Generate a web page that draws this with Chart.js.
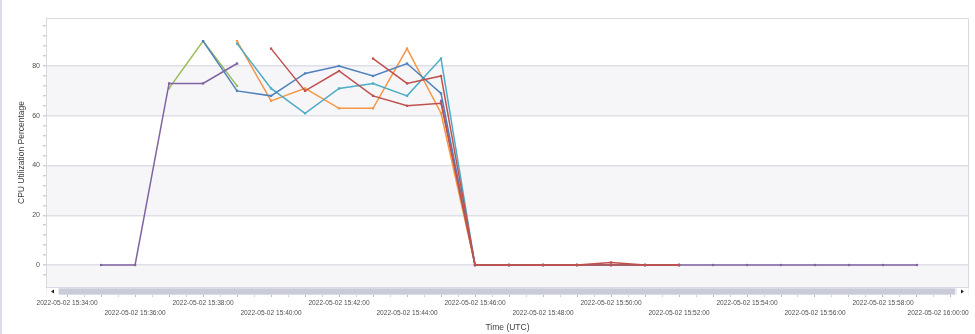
<!DOCTYPE html>
<html>
<head>
<meta charset="utf-8">
<title>CPU Utilization Percentage</title>
<script src="https://cdn.jsdelivr.net/npm/chart.js@4/dist/chart.umd.min.js"></script>
<style>
    html, body { margin: 0; padding: 0; background: #fff; }
    canvas { display: block; }
</style>
</head>
<body>
<canvas id="cpuChart" width="975" height="334"></canvas>
<script>
// minutes after 15:00 on 2022-05-02
var minutes = [35, 36, 37, 38, 39, 40, 41, 42, 43, 44, 45, 46, 47, 48, 49, 50, 51, 52, 53, 54, 55, 56, 57, 58, 59];

var redA    = [null, null, null, null, null, 87, 70, 78, 68, 64, 65, 0, 0, 0, 0, 1, 0, 0, null, null, null, null, null, null, null];
var redB    = [null, null, null, null, null, null, null, null, 83, 73, 76, 0, 0, 0, 0, 0, 0, 0, null, null, null, null, null, null, null];
var blue    = [null, null, null, 90, 70, 68, 77, 80, 76, 81, 69, 0, 0, 0, 0, 0, 0, 0, null, null, null, null, null, null, null];
var cyan    = [null, null, null, null, 89, 71, 61, 71, 73, 68, 83, 0, 0, 0, 0, 0, 0, 0, null, null, null, null, null, null, null];
var orange  = [null, null, null, null, 90, 66, 71, 63, 63, 87, 61, 0, 0, 0, 0, 0, 0, 0, null, null, null, null, null, null, null];
var purple  = [0, 0, 73, 73, 81, null, null, null, null, null, 66, 0, 0, 0, 0, 0, 0, 0, 0, 0, 0, 0, 0, 0, 0];
var green   = [null, null, 71, 90, 72, null, null, null, null, null, null, null, null, null, null, null, null, null, null, null, null, null, null, null, null];

var yTickLabels = [0, 20, 40, 60, 80];
var xMin = 33.38, xMax = 60.53;
var yMin = -8.84, yMax = 99.3;

var fontFamily = '"Liberation Sans", Arial, sans-serif';

function toPoints(values) {
    return minutes.map(function (m, i) { return { x: m, y: values[i] }; });
}

function makeSet(label, values, color) {
    return {
        label: label,
        data: toPoints(values),
        borderColor: color,
        backgroundColor: color,
        borderWidth: 1.5,
        pointStyle: 'rect',
        pointRadius: 1.6,
        pointBorderWidth: 0,
        pointBackgroundColor: color,
        spanGaps: false,
        tension: 0
    };
}

function timeLabel(m) {
    var h = 15 + Math.floor(m / 60);
    var mm = m % 60;
    return '2022-05-02 ' + h + ':' + (mm < 10 ? '0' + mm : mm) + ':00';
}

// alternating bands, frame, left edge
var chartFrame = {
    id: 'chartFrame',
    beforeDraw: function (chart) {
        var ctx = chart.ctx, area = chart.chartArea, y = chart.scales.y;
        ctx.save();
        ctx.fillStyle = '#dcdce6';
        ctx.fillRect(0, 0, 2, chart.height);
        ctx.fillStyle = '#f6f6f9';
        var bands = [[yMin, 0], [20, 40], [60, 80]];
        bands.forEach(function (b) {
            var top = y.getPixelForValue(b[1]);
            var bottom = y.getPixelForValue(b[0]);
            ctx.fillRect(area.left, top, area.right - area.left, bottom - top);
        });
        ctx.restore();
    },
    afterDraw: function (chart) {
        var ctx = chart.ctx, area = chart.chartArea;
        ctx.save();
        ctx.strokeStyle = '#d9d9e3';
        ctx.lineWidth = 1;
        ctx.strokeRect(area.left + 0.5, area.top + 0.5, area.right - area.left - 1, area.bottom - area.top);
        // scrollbar
        var sy = area.bottom + 1;
        ctx.fillStyle = '#eceef3';
        ctx.fillRect(area.left, sy, area.right - area.left, 7);
        ctx.fillStyle = '#c9ccd8';
        ctx.fillRect(area.left + 13, sy + 0.5, area.right - area.left - 27, 6);
        ctx.fillStyle = '#ffffff';
        ctx.fillRect(area.left + 1, sy, 11, 7);
        ctx.fillRect(area.right - 12, sy, 11, 7);
        ctx.fillStyle = '#222';
        ctx.beginPath();
        ctx.moveTo(area.left + 5, sy + 3.5);
        ctx.lineTo(area.left + 8, sy + 1.5);
        ctx.lineTo(area.left + 8, sy + 5.5);
        ctx.fill();
        ctx.beginPath();
        ctx.moveTo(area.right - 5, sy + 3.5);
        ctx.lineTo(area.right - 8, sy + 1.5);
        ctx.lineTo(area.right - 8, sy + 5.5);
        ctx.fill();
        ctx.restore();
    }
};

var ctx = document.getElementById('cpuChart').getContext('2d');
var chart = new Chart(ctx, {
    type: 'line',
    data: {
        datasets: [
            makeSet('Instance 1', redA, '#c0504d'),
            makeSet('Instance 2', redB, '#c0504d'),
            makeSet('Instance 3', blue, '#4f81bd'),
            makeSet('Instance 4', cyan, '#4bacc6'),
            makeSet('Instance 5', orange, '#f79646'),
            makeSet('Instance 6', purple, '#8064a2'),
            makeSet('Instance 7', green, '#9bbb59')
        ]
    },
    options: {
        responsive: false,
        animation: false,
        devicePixelRatio: 1,
        layout: { padding: { top: 18, right: 6, left: 2, bottom: 0 } },
        plugins: {
            legend: { display: false },
            tooltip: { enabled: false }
        },
        scales: {
            x: {
                type: 'linear',
                min: xMin,
                max: xMax,
                afterFit: function (scale) { scale.height = 47; },
                border: { display: false },
                grid: {
                    drawOnChartArea: false,
                    tickLength: 10,
                    tickColor: function (c) {
                        var v = Math.round(c.tick.value * 2) / 2;
                        if (Math.abs(v - c.tick.value) > 0.001) return 'rgba(0,0,0,0)';
                        return v % 1 === 0 ? '#b8b8c4' : '#d0d0da';
                    }
                },
                ticks: {
                    stepSize: 0.5,
                    autoSkip: false,
                    maxRotation: 0,
                    minRotation: 0,
                    padding: 1,
                    color: '#505050',
                    font: { family: fontFamily, size: 6.6, lineHeight: '10px' },
                    callback: function (value) {
                        var m = Math.round(value * 2) / 2;
                        if (Math.abs(m - value) > 0.001 || m % 1 !== 0 || m % 2 !== 0) return '';
                        var label = timeLabel(m);
                        // keep the last label inside the canvas
                        if (m + 2 > xMax) label += '\u2007\u2007\u2007\u2007\u2007\u2007\u2007';
                        return ((m - 34) / 2) % 2 === 0 ? [label] : ['', label];
                    }
                },
                title: {
                    display: true,
                    text: 'Time (UTC)',
                    color: '#404040',
                    font: { family: fontFamily, size: 8.5 },
                    padding: { top: 0, bottom: 1 }
                }
            },
            y: {
                min: yMin,
                max: yMax,
                afterFit: function (scale) { scale.width = 44; },
                border: { display: false },
                grid: {
                    lineWidth: 1.5,
                    tickLength: 3,
                    color: function (c) {
                        return yTickLabels.indexOf(c.tick.value) >= 0 ? '#dfdfe7' : 'rgba(0,0,0,0)';
                    },
                    tickColor: function (c) {
                        return Math.abs(c.tick.value % 4) < 0.001 ? '#d0d0da' : 'rgba(0,0,0,0)';
                    }
                },
                ticks: {
                    stepSize: 4,
                    autoSkip: false,
                    padding: 3,
                    color: '#505050',
                    font: { family: fontFamily, size: 7 },
                    callback: function (value) {
                        return yTickLabels.indexOf(value) >= 0 ? String(value) : '';
                    }
                },
                title: {
                    display: true,
                    text: 'CPU Utilization Percentage',
                    color: '#404040',
                    font: { family: fontFamily, size: 8.5 },
                    padding: { top: 15, bottom: 0 }
                }
            }
        }
    },
    plugins: [chartFrame]
});
</script>
</body>
</html>
